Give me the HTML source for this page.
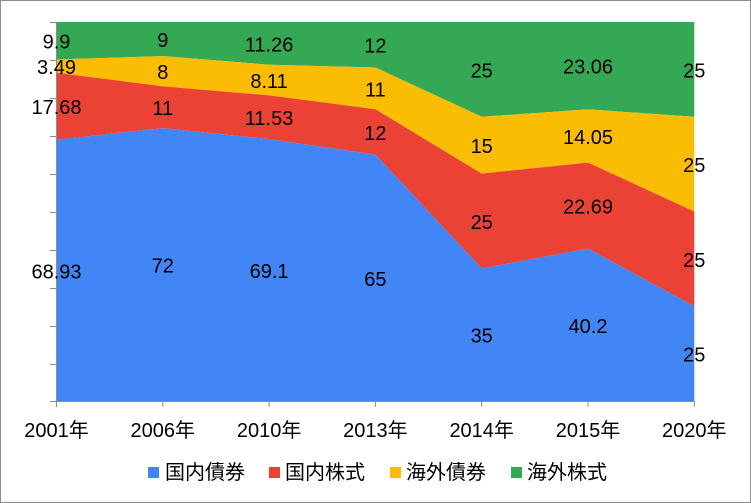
<!DOCTYPE html>
<html><head><meta charset="utf-8"><style>
html,body{margin:0;padding:0;background:#fff}
svg{display:block}
text{font-family:"Liberation Sans","Noto Sans CJK JP",sans-serif;fill:#000}
</style></head><body>
<svg width="751" height="503" viewBox="0 0 751 503" xmlns="http://www.w3.org/2000/svg">
<rect x="0.5" y="0.5" width="750" height="502" fill="#fff" stroke="#8c8c8c"/>
<polygon fill="#34a853" points="56.5,22 694.3,22 694.3,116.8 588,109.4 481.7,116.8 375.4,67.5 269.1,64.7 162.8,56.1 56.5,59.5"/>
<polygon fill="#fbbc04" points="56.5,59.5 162.8,56.1 269.1,64.7 375.4,67.5 481.7,116.8 588,109.4 694.3,116.8 694.3,211.5 588,162.6 481.7,173.6 375.4,109.2 269.1,95.4 162.8,86.4 56.5,72.7"/>
<polygon fill="#ea4335" points="56.5,72.7 162.8,86.4 269.1,95.4 375.4,109.2 481.7,173.6 588,162.6 694.3,211.5 694.3,306.3 588,248.6 481.7,268.4 375.4,154.6 269.1,139.1 162.8,128.1 56.5,139.8"/>
<polygon fill="#4285f4" points="56.5,139.8 162.8,128.1 269.1,139.1 375.4,154.6 481.7,268.4 588,248.6 694.3,306.3 694.3,401 56.5,401"/>
<g stroke="#8c8c8c" stroke-width="1" fill="none">
<line x1="56.5" y1="22" x2="56.5" y2="401"/>
<line x1="56.5" y1="401.5" x2="694.3" y2="401.5"/>
<path d="M50,22.5H56 M50,60.5H56 M50,98.5H56 M50,136.5H56 M50,174.5H56 M50,212.5H56 M50,250.5H56 M50,288.5H56 M50,326.5H56 M50,364.5H56 M50,401.5H56"/>
<path d="M56.5,401V407 M162.8,401V407 M269.1,401V407 M375.4,401V407 M481.7,401V407 M588,401V407 M694.3,401V407"/>
</g>
<g font-size="20" text-anchor="middle" dominant-baseline="central" transform="translate(0,2)">
<text x="56.5" y="270.4">68.93</text><text x="162.8" y="264.5">72</text><text x="269.1" y="270">69.1</text><text x="375.4" y="277.8">65</text><text x="481.7" y="334.7">35</text><text x="588" y="324.8">40.2</text><text x="694.3" y="353.6">25</text>
<text x="56.5" y="106.2">17.68</text><text x="162.8" y="107.2">11</text><text x="269.1" y="117.2">11.53</text><text x="375.4" y="131.9">12</text><text x="481.7" y="221">25</text><text x="588" y="205.6">22.69</text><text x="694.3" y="258.9">25</text>
<text x="56.5" y="66.1">3.49</text><text x="162.8" y="71.2">8</text><text x="269.1" y="80">8.11</text><text x="375.4" y="88.3">11</text><text x="481.7" y="145.2">15</text><text x="588" y="136">14.05</text><text x="694.3" y="164.1">25</text>
<text x="56.5" y="40.7">9.9</text><text x="162.8" y="39">9</text><text x="269.1" y="43.3">11.26</text><text x="375.4" y="44.7">12</text><text x="481.7" y="69.4">25</text><text x="588" y="65.7">23.06</text><text x="694.3" y="69.4">25</text>
<text x="56.5" y="429">2001年</text><text x="162.8" y="429">2006年</text><text x="269.1" y="429">2010年</text><text x="375.4" y="429">2013年</text><text x="481.7" y="429">2014年</text><text x="588" y="429">2015年</text><text x="694.3" y="429">2020年</text>
</g>
<g font-size="20" dominant-baseline="central">
<rect x="148" y="467" width="11" height="11" fill="#4285f4"/><text x="165" y="473">国内債券</text>
<rect x="269" y="467" width="11" height="11" fill="#ea4335"/><text x="285" y="473">国内株式</text>
<rect x="390" y="467" width="11" height="11" fill="#fbbc04"/><text x="406" y="473">海外債券</text>
<rect x="511" y="467" width="11" height="11" fill="#34a853"/><text x="527" y="473">海外株式</text>
</g>
</svg>
</body></html>
